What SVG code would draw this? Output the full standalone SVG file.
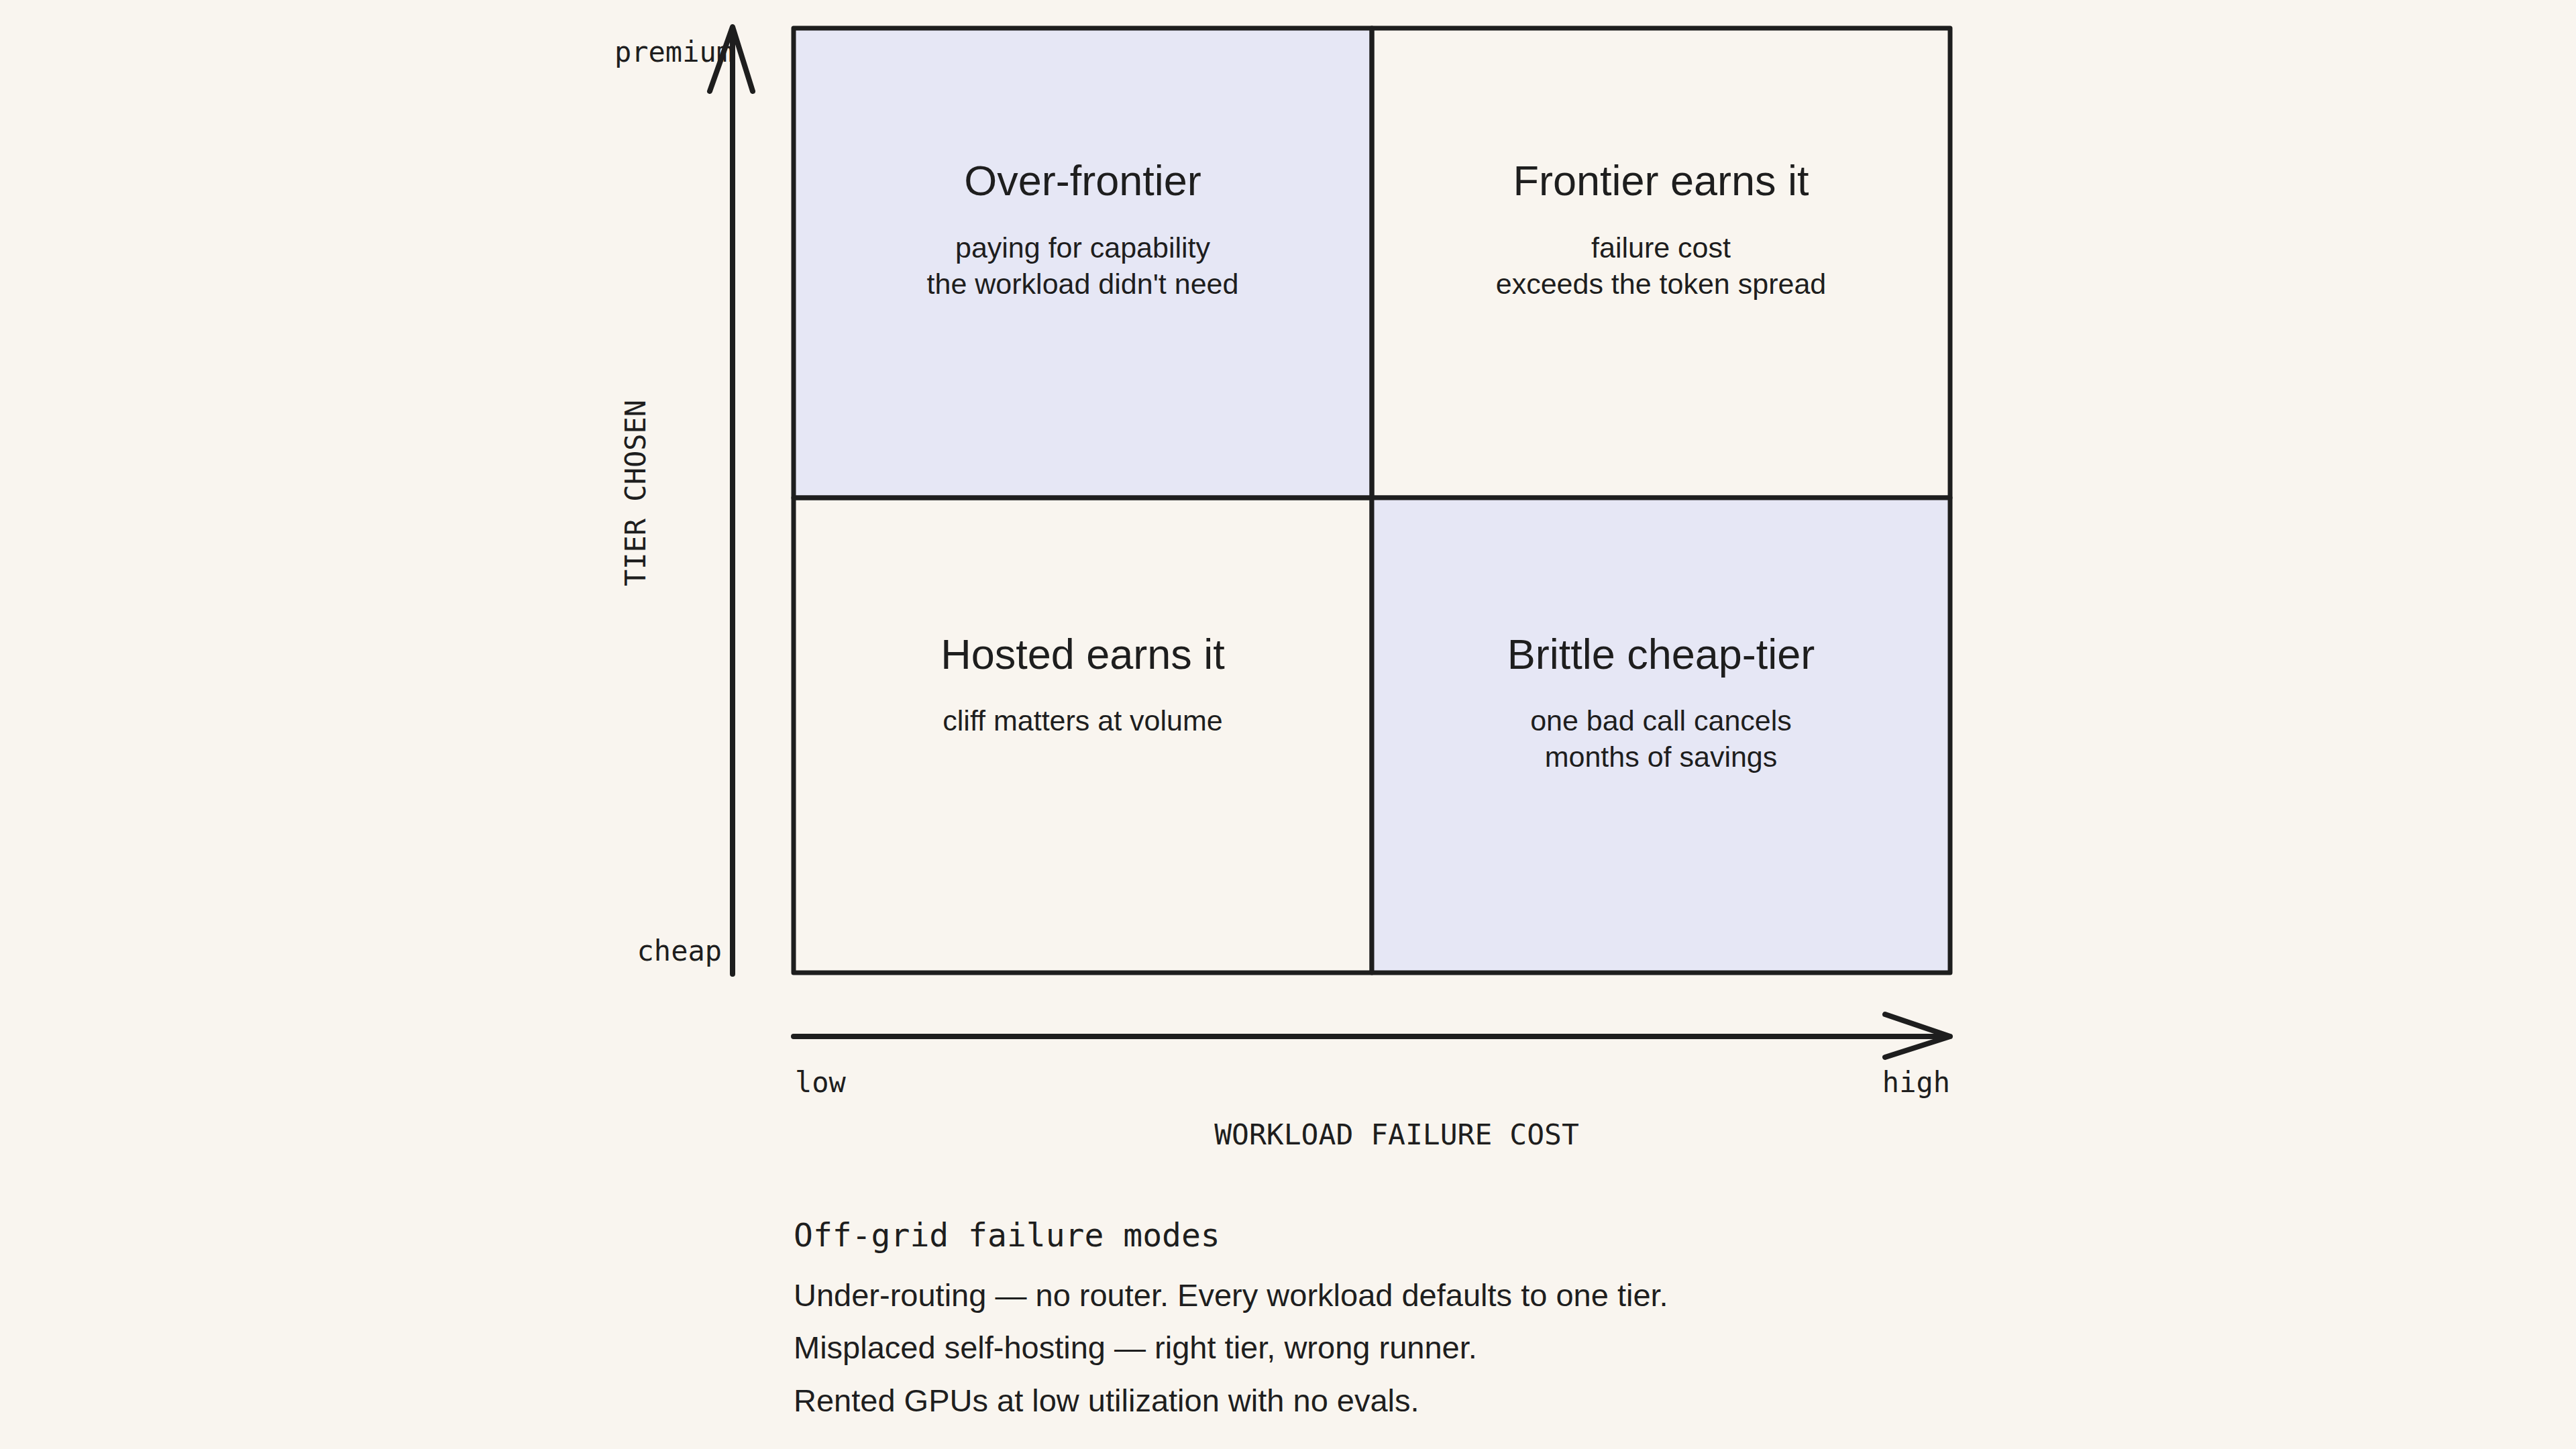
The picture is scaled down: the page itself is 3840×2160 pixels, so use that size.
<svg xmlns="http://www.w3.org/2000/svg" width="3840" height="2160" viewBox="0 0 3840 2160">
<style>
.q{stroke:#1e1e1e;stroke-width:7;stroke-linejoin:round}
.t{font-family:"Liberation Sans",Arial,sans-serif;fill:#1e1e1e;text-anchor:middle}
.h{font-size:63px}
.s{font-size:43px}
.m{font-family:"DejaVu Sans Mono","Liberation Mono",monospace;fill:#1e1e1e;font-size:42px}
.f{font-family:"Liberation Sans",Arial,sans-serif;fill:#1e1e1e;font-size:47px}
.ax{stroke:#1e1e1e;stroke-width:8;fill:none;stroke-linecap:round;stroke-linejoin:round}
</style>
<rect width="3840" height="2160" fill="#f9f5ef"/>
<g id="q-over"><rect x="1183" y="42" width="862" height="700" fill="#e6e7f5" class="q"/>
<text class="t h" x="1614" y="291">Over-frontier</text>
<text class="t s" x="1614" y="384">paying for capability</text>
<text class="t s" x="1614" y="438">the workload didn't need</text></g>
<g id="q-frontier"><rect x="2045" y="42" width="862" height="700" fill="none" class="q"/>
<text class="t h" x="2476" y="291">Frontier earns it</text>
<text class="t s" x="2476" y="384">failure cost</text>
<text class="t s" x="2476" y="438">exceeds the token spread</text></g>
<g id="q-hosted"><rect x="1183" y="742" width="862" height="708" fill="none" class="q"/>
<text class="t h" x="1614" y="997">Hosted earns it</text>
<text class="t s" x="1614" y="1089">cliff matters at volume</text></g>
<g id="q-brittle"><rect x="2045" y="742" width="862" height="708" fill="#e6e7f5" class="q"/>
<text class="t h" x="2476" y="997">Brittle cheap-tier</text>
<text class="t s" x="2476" y="1089">one bad call cancels</text>
<text class="t s" x="2476" y="1143">months of savings</text></g>
<g id="connectors">
<path class="ax" d="M1092 1452 L1092 44 M1058 136 L1092 40 L1122 136"/>
<path class="ax" d="M1183 1545 L2907 1545 M2810 1512 L2907 1545 L2810 1576"/>
</g>
<g id="labels">
<text class="m" x="916" y="92">premium</text>
<text class="m" x="1076" y="1432" text-anchor="end">cheap</text>
<text class="m" x="1185" y="1628">low</text>
<text class="m" x="2907" y="1628" text-anchor="end">high</text>
<text class="m" x="2082" y="1706" text-anchor="middle" style="font-size:43px">WORKLOAD FAILURE COST</text>
<text class="m" x="0" y="0" text-anchor="middle" transform="translate(962 735) rotate(-90)">TIER CHOSEN</text>
</g>
<g id="footer">
<text class="m" x="1183" y="1858" style="font-size:48px">Off-grid failure modes</text>
<text class="f" x="1183" y="1947">Under-routing — no router. Every workload defaults to one tier.</text>
<text class="f" x="1183" y="2025">Misplaced self-hosting — right tier, wrong runner.</text>
<text class="f" x="1183" y="2104">Rented GPUs at low utilization with no evals.</text>
</g>
</svg>
